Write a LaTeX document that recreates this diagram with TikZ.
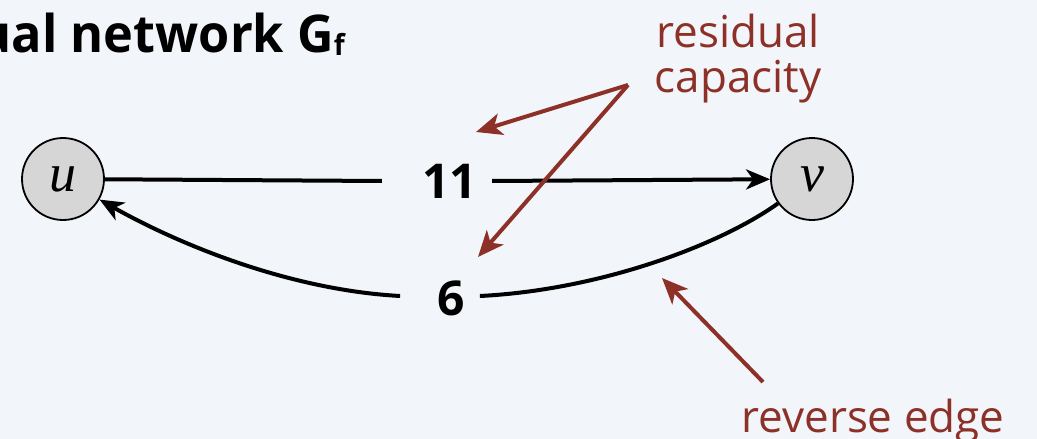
\documentclass[tikz,border=0pt]{standalone}
\usepackage{fontspec}
\setmainfont{Open Sans}
\newfontfamily\vxfont{Liberation Serif}
\usetikzlibrary{arrows.meta,calc}
\definecolor{bgc}{RGB}{242,245,249}
\definecolor{annot}{RGB}{141,49,40}
\definecolor{nodefill}{RGB}{214,214,214}
\tikzset{
  vertex/.style={circle,draw=black,line width=1.8pt,fill=nodefill,minimum size=82pt,inner sep=0pt,font=\vxfont\itshape\fontsize{54}{54}\selectfont},
  edgeline/.style={line width=4pt,black},
  edgearrow/.style={edgeline,-{Stealth[length=24pt,width=20pt,inset=7pt]}},
  caplabel/.style={font=\fontsize{48}{48}\selectfont\bfseries,inner sep=0pt},
  annotarrow/.style={line width=4pt,annot,-{Stealth[length=26pt,width=22pt,inset=7pt]}},
  annottext/.style={text=annot,font=\fontsize{44}{45}\selectfont,align=center,inner sep=0pt},
}
\begin{document}
\begin{tikzpicture}[x=1pt,y=-1pt]
\fill[bgc] (0,0) rectangle (1037,439);
\useasboundingbox (0,0) rectangle (1037,439);
\clip (0,0) rectangle (1037,439);
% title
\node[anchor=base east,inner sep=0pt,font=\fontsize{52}{52}\selectfont\bfseries] (title) at (345,52)
  {\scalebox{0.97}[1]{residual network G\raisebox{-3pt}{\fontsize{29}{29}\selectfont f}}};
% vertices
\node[vertex] (u) at (63,179) {u};
\node[vertex] (v) at (812,179) {v};
% edge labels
\node[caplabel] (l11) at (449.5,181) {11};
\node[caplabel] (l6) at (451,298) {6};
% forward edge
\draw[edgeline] (u) -- ([xshift=-40pt]l11.west);
\draw[edgearrow] ([xshift=15pt]l11.east) -- (v);
% reverse edge
\draw[edgeline] (v) .. controls (720,245) and (600,290) .. ([xshift=15pt,yshift=2pt]l6.east);
\draw[edgearrow] ([xshift=-37pt,yshift=2pt]l6.west) .. controls (290,290) and (180,245) .. (u);
% annotations
\node[annottext,anchor=base] (rc) at (738,92) {residual\\capacity};
\node[annottext,anchor=base] (re) at (873,432) {reverse edge};
\coordinate (rcsrc) at (628,85);
\coordinate (rc1) at (476,132);
\coordinate (rc2) at (478,257);
\coordinate (resrc) at (763,382);
\coordinate (retip) at (662,278);
\draw[annotarrow] (rcsrc) -- (rc1);
\draw[annotarrow] (rcsrc) -- (rc2);
\draw[annotarrow] (resrc) -- (retip);
\end{tikzpicture}
\end{document}
